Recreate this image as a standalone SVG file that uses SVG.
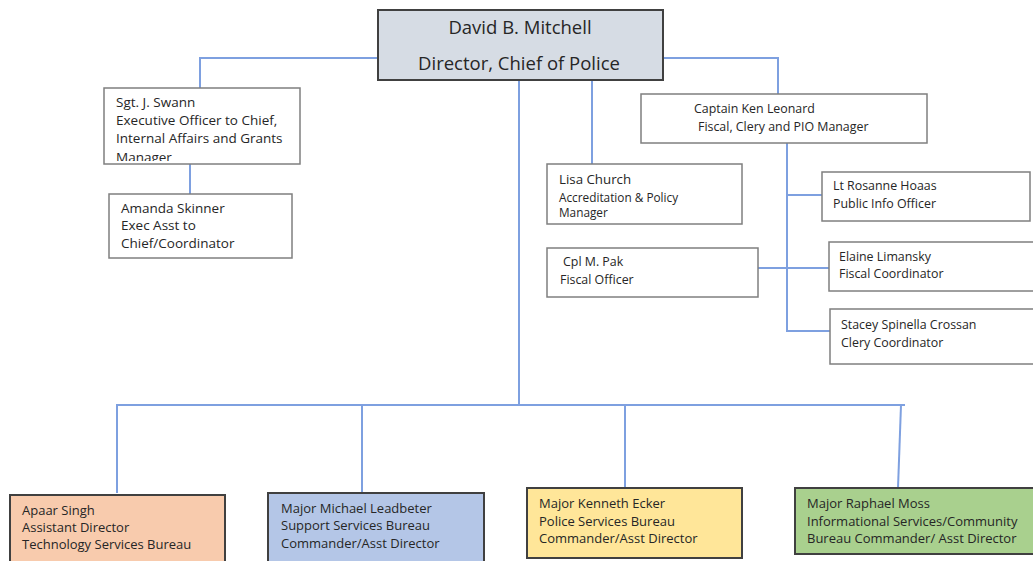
<svg xmlns="http://www.w3.org/2000/svg" width="1033" height="561" viewBox="0 0 1033 561">
<style>
.box{fill:#fff;stroke:#7f7f7f;stroke-width:1.5}
.t{font-family:"Open Sans","Liberation Sans",Arial,sans-serif;font-size:13px;fill:#262626}
.s{font-size:12.4px}
.c{fill:none;stroke:#7ea0e0;stroke-width:2}
.dark{stroke:#404040;stroke-width:2}
</style>
<defs>
<clipPath id="swclip"><rect x="104" y="88" width="196" height="73"/></clipPath>
</defs>
<rect width="1033" height="561" fill="#fff"/>
<g id="connectors">
<path class="c" d="M378 58H200V88"/>
<path class="c" d="M663 58H778V94"/>
<path class="c" d="M519 80V405"/>
<path class="c" d="M592 80V164"/>
<path class="c" d="M190 164V194"/>
<path class="c" d="M787 143V331H830"/>
<path class="c" d="M787 195H822"/>
<path class="c" d="M758 268H829"/>
<path class="c" d="M117 493V405H905"/>
<path class="c" d="M362 405V493"/>
<path class="c" d="M625 405V488"/>
<path class="c" d="M901 405L898 488"/>
</g>
<g id="director">
<rect x="378" y="10" width="285" height="70" fill="#d6dce4" class="dark"/>
<text class="t" x="520" y="34" text-anchor="middle" style="font-size:18.5px">David B. Mitchell</text>
<text class="t" x="519" y="70" text-anchor="middle" style="font-size:18.5px">Director, Chief of Police</text>
</g>
<g id="swann">
<rect class="box" x="104" y="88" width="196" height="76"/>
<g clip-path="url(#swclip)">
<text class="t" x="116" y="107" style="font-size:13.5px">Sgt. J. Swann</text>
<text class="t" x="116" y="125" style="font-size:13.5px">Executive Officer to Chief,</text>
<text class="t" x="116" y="143" style="font-size:13.5px">Internal Affairs and Grants</text>
<text class="t" x="116" y="162" style="font-size:13.5px">Manager</text>
</g>
</g>
<g id="skinner">
<rect class="box" x="109" y="194" width="183" height="64"/>
<text class="t" x="121" y="213" style="font-size:13.5px">Amanda Skinner</text>
<text class="t" x="121" y="230" style="font-size:13.5px">Exec Asst to</text>
<text class="t" x="121" y="248" style="font-size:13.5px">Chief/Coordinator</text>
</g>
<g id="leonard">
<rect class="box" x="641" y="94" width="286" height="49"/>
<text class="t s" x="694" y="113">Captain Ken Leonard</text>
<text class="t s" x="698" y="131">Fiscal, Clery and PIO Manager</text>
</g>
<g id="church">
<rect class="box" x="547" y="164" width="195" height="60"/>
<text class="t" x="559" y="184" style="font-size:13.3px">Lisa Church</text>
<text class="t" x="559" y="202" style="font-size:11.8px">Accreditation &amp; Policy</text>
<text class="t" x="559" y="217" style="font-size:11.8px">Manager</text>
</g>
<g id="pak">
<rect class="box" x="547" y="248" width="211" height="49"/>
<text class="t s" x="563" y="266">Cpl M. Pak</text>
<text class="t s" x="560" y="284">Fiscal Officer</text>
</g>
<g id="hoaas">
<rect class="box" x="822" y="172" width="208" height="49"/>
<text class="t s" x="833" y="190">Lt Rosanne Hoaas</text>
<text class="t s" x="833" y="208">Public Info Officer</text>
</g>
<g id="limansky">
<rect class="box" x="829" y="242" width="210" height="49"/>
<text class="t s" x="839" y="261">Elaine Limansky</text>
<text class="t s" x="839" y="278">Fiscal Coordinator</text>
</g>
<g id="crossan">
<rect class="box" x="830" y="309" width="210" height="55"/>
<text class="t s" x="841" y="329">Stacey Spinella Crossan</text>
<text class="t s" x="841" y="347">Clery Coordinator</text>
</g>
<g id="singh">
<rect x="10" y="495" width="215" height="80" fill="#f8cbad" class="dark"/>
<text class="t" x="22" y="515">Apaar Singh</text>
<text class="t" x="22" y="532">Assistant Director</text>
<text class="t" x="22" y="549">Technology Services Bureau</text>
</g>
<g id="leadbeter">
<rect x="268" y="493" width="216" height="80" fill="#b4c6e7" class="dark"/>
<text class="t" x="281" y="513">Major Michael Leadbeter</text>
<text class="t" x="281" y="530">Support Services Bureau</text>
<text class="t" x="281" y="548">Commander/Asst Director</text>
</g>
<g id="ecker">
<rect x="527" y="488" width="215" height="70" fill="#ffe699" class="dark"/>
<text class="t" x="539" y="508">Major Kenneth Ecker</text>
<text class="t" x="539" y="526">Police Services Bureau</text>
<text class="t" x="539" y="543">Commander/Asst Director</text>
</g>
<g id="moss">
<rect x="795" y="488" width="245" height="66" fill="#a9d08e" class="dark"/>
<text class="t" x="807" y="508">Major Raphael Moss</text>
<text class="t" x="807" y="526">Informational Services/Community</text>
<text class="t" x="807" y="543">Bureau Commander/ Asst Director</text>
</g>
</svg>
